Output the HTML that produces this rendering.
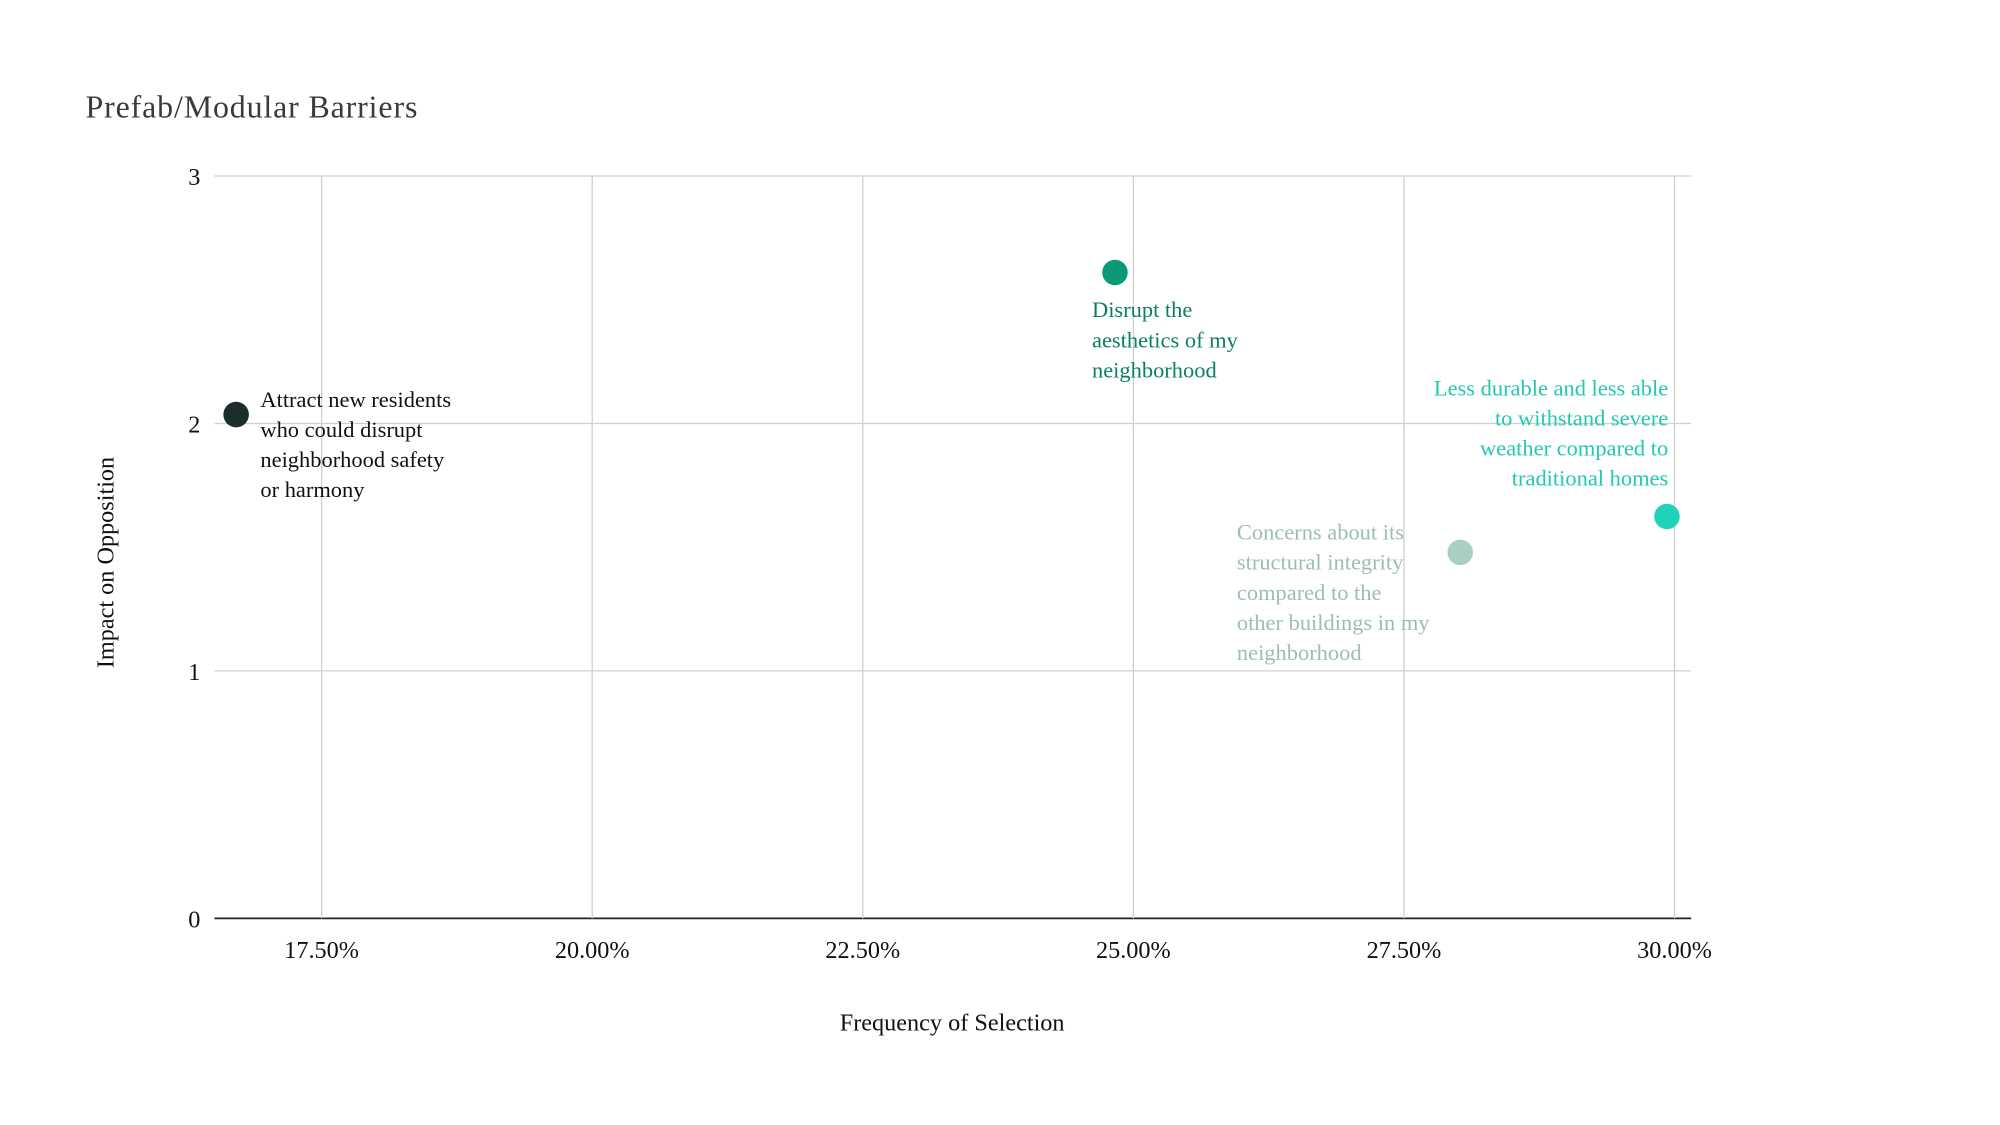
<!DOCTYPE html>
<html><head><meta charset="utf-8"><style>
html,body{margin:0;padding:0;background:#fff;}
svg{display:block;font-family:"Liberation Serif",serif;}
</style></head><body>
<svg id="chart" width="2000" height="1125" viewBox="0 0 1567 882" preserveAspectRatio="none" xmlns="http://www.w3.org/2000/svg">
<text x="67" y="92" font-size="25" fill="#3a3a3a" textLength="260">Prefab/Modular Barriers</text>
<g id="grid"></g><g id="ticks"></g><g id="marks"></g>
<text transform="translate(89,441) rotate(-90)" text-anchor="middle" font-size="19" fill="#111">Impact on Opposition</text>
<text x="746" y="808" text-anchor="middle" font-size="19" fill="#111">Frequency of Selection</text>
</svg>
<script>
const xValues = [16.71, 24.83, 28.02, 29.93];
const yValues = [2.036, 2.61, 1.479, 1.624];
const pointLabels = [
  ["Attract new residents","who could disrupt","neighborhood safety","or harmony"],
  ["Disrupt the","aesthetics of my","neighborhood"],
  ["Concerns about its","structural integrity","compared to the","other buildings in my","neighborhood"],
  ["Less durable and less able","to withstand severe","weather compared to","traditional homes"]
];
const pointColors = ["#1b2e2b","#0b9a78","#a9cfc5","#22d1b9"];
const labelColors = ["#111","#0b7f63","#9dbdb4","#22c9b2"];
const xTicks = [17.5, 20, 22.5, 25, 27.5, 30];
const xTickLabels = ["17.50%","20.00%","22.50%","25.00%","27.50%","30.00%"];
const yTicks = [0, 1, 2, 3];
const yTickLabels = ["0","1","2","3"];

const L=168,R=1325,T=138,B=720;
const xPer=84.8;
const X=v=>252+(v-17.5)*xPer;
const Y=v=>B-(v/3)*(B-T);
const ns="http://www.w3.org/2000/svg";
function mk(tag,attrs,parent,txt){const e=document.createElementNS(ns,tag);for(const k in attrs)e.setAttribute(k,attrs[k]);if(txt!==undefined)e.textContent=txt;parent.appendChild(e);return e;}
const grid=document.getElementById('grid'),ticks=document.getElementById('ticks'),marks=document.getElementById('marks');
yTicks.forEach((t,i)=>{
  const ln=mk('line',{x1:L,x2:R,y1:Y(t),y2:Y(t),stroke:t===0?'#222':'#cfcfcf','stroke-width':t===0?1.3:1},grid);
  
  
  const tx=mk('text',{x:157,y:Y(t)+7,'text-anchor':'end','font-size':19,fill:'#111'},ticks,yTickLabels[i]);
  
  
});
xTicks.forEach((t,i)=>{
  const ln=mk('line',{x1:X(t),x2:X(t),y1:T,y2:B,stroke:'#cfcfcf','stroke-width':1},grid);
  
  
  const tx=mk('text',{x:X(t),y:751,'text-anchor':'middle','font-size':19,fill:'#111'},ticks,xTickLabels[i]);
  
  
});
const offs=[[19,-12,'start'],[-18,29,'start'],[-175,-16,'start'],[1,-101,'end']];
xValues.forEach((xv,i)=>{
  const cx=X(xv),cy=Y(yValues[i]);
  const c=mk('circle',{cx:cx,cy:cy,r:10,fill:pointColors[i]},marks);
  
  
  const t=mk('text',{x:cx+offs[i][0],y:cy+offs[i][1]+6,'text-anchor':offs[i][2],'font-size':17.6,fill:labelColors[i]},marks);
  
  
  pointLabels[i].forEach((s,j)=>{mk('tspan',{x:cx+offs[i][0],dy:j?23.6:0},t,s);});
});
</script>
</body></html>
